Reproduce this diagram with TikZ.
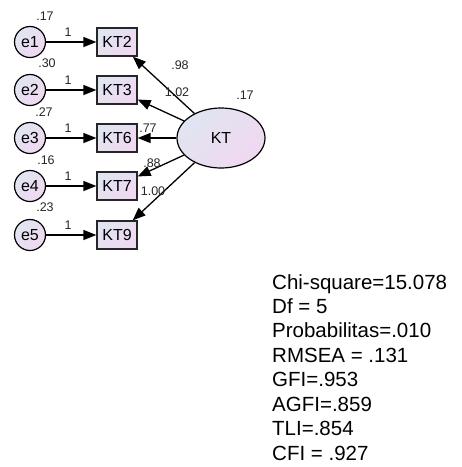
\documentclass[tikz,border=0pt]{standalone}
\usepackage{fontspec}
\setmainfont{Liberation Sans}
\usetikzlibrary{shapes.geometric,arrows.meta}
\definecolor{shA}{HTML}{E0E5F1}
\definecolor{shB}{HTML}{F0D8F1}
\tikzset{
  fillsh/.style={top color=shA, bottom color=shB, shading angle=45},
  errnode/.style={circle, draw=black, line width=1.2pt, fillsh, minimum size=31pt, inner sep=0pt, font=\fontsize{16}{16}\selectfont},
  obsnode/.style={rectangle, draw=black!85, line width=1.2pt, fillsh, minimum width=40pt, minimum height=28pt, inner sep=0pt, font=\fontsize{16}{16}\selectfont},
  latnode/.style={ellipse, draw=black, line width=1.2pt, fillsh, minimum width=88pt, minimum height=60pt, inner sep=0pt, font=\fontsize{16}{16}\selectfont},
  lbl/.style={inner sep=0pt, font=\fontsize{12.5}{12.5}\selectfont, text=black!85},
  fitline/.style={anchor=base west, inner sep=0pt, font=\fontsize{20.5}{24}\selectfont},
  conn/.style={line width=1.3pt, -{Triangle[length=13pt,width=10pt]}}
}
\begin{document}
\begin{tikzpicture}[x=1pt,y=-1pt]
\useasboundingbox (0,0) rectangle (462,467);
% latent
\node[latnode] (KT) at (221,138) {KT};
% observed and errors
\foreach \n/\e/\y in {KT2/e1/42, KT3/e2/90, KT6/e3/138, KT7/e4/186, KT9/e5/235}{
  \node[obsnode] (\n) at (117,\y) {\n};
  \node[errnode] (\e) at (30,\y) {\e};
  \draw[conn] (\e) -- (\n);
}
% unit loading labels
\foreach \y/\k in {32/1, 80/2, 128/3, 176/4, 225/5}{
  \node[lbl] (one\k) at (68,\y) {1};
}
% error variances
\node[lbl] (v1) at (45,16) {.17};
\node[lbl] (v2) at (47,63) {.30};
\node[lbl] (v3) at (44,112) {.27};
\node[lbl] (v4) at (46,160) {.16};
\node[lbl] (v5) at (45,207) {.23};
% structural paths
\draw[conn] (KT) -- (KT2);
\draw[conn] (KT) -- (KT3);
\draw[conn] (KT) -- (KT6);
\draw[conn] (KT) -- (KT7);
\draw[conn] (KT) -- (KT9);
% loadings
\node[lbl] (l1) at (180,65) {.98};
\node[lbl] (l2) at (177,92) {1.02};
\node[lbl] (l3) at (148,128) {.77};
\node[lbl] (l4) at (152,163) {.88};
\node[lbl] (l5) at (153,191) {1.00};
\node[lbl] (vk) at (245,95) {.17};
% fit indices
\node[fitline] (f1) at (272,289) {Chi-square=15.078};
\node[fitline] (f2) at (272,313.4) {Df = 5};
\node[fitline] (f3) at (272,337.9) {Probabilitas=.010};
\node[fitline] (f4) at (272,362.3) {RMSEA = .131};
\node[fitline] (f5) at (272,386.7) {GFI=.953};
\node[fitline] (f6) at (272,411.1) {AGFI=.859};
\node[fitline] (f7) at (272,435.6) {TLI=.854};
\node[fitline] (f8) at (272,460) {CFI = .927};
\end{tikzpicture}
\end{document}
